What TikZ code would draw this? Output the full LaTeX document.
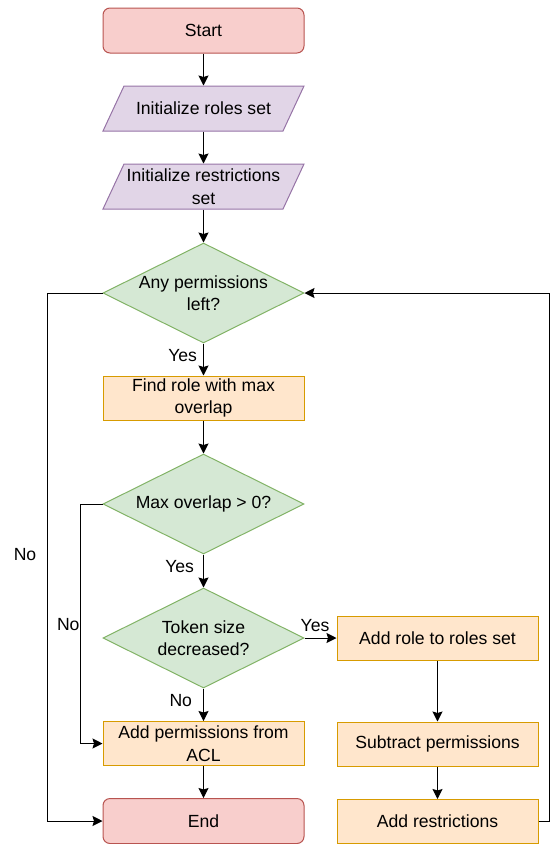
\documentclass[tikz,border=0pt]{standalone}
\usepackage{fontspec}
\setmainfont{Liberation Sans}
\usepackage{tikz}
\usetikzlibrary{arrows.meta,shapes.geometric}
\definecolor{termfill}{HTML}{F8CECC}
\definecolor{termline}{HTML}{B85450}
\definecolor{iofill}{HTML}{E1D5E7}
\definecolor{ioline}{HTML}{9673A6}
\definecolor{askfill}{HTML}{D5E8D4}
\definecolor{askline}{HTML}{82B366}
\definecolor{actfill}{HTML}{FFE6CC}
\definecolor{actline}{HTML}{D79B00}
\tikzset{
  term/.style ={draw=termline, fill=termfill, rounded corners=7pt, minimum width=201pt, minimum height=45pt, inner sep=0pt},
  iobox/.style={draw=ioline, fill=iofill},
  io/.style   ={minimum width=181pt, minimum height=45pt, inner sep=0pt, align=center},
  ask/.style  ={draw=askline, fill=askfill, diamond, aspect=2, minimum width=201pt, minimum height=100pt, inner sep=0pt, align=center},
  act/.style  ={draw=actline, fill=actfill, minimum width=201pt, minimum height=44pt, inner sep=0pt, align=center},
  lbl/.style  ={inner sep=1pt},
  arr/.style  ={draw=black, line width=1pt, -{Stealth[length=10pt,width=10pt,inset=1.5pt]}},
}

\begin{document}
\begin{tikzpicture}[x=1pt,y=-1pt,font=\fontsize{17.6}{22.5}\selectfont,line width=1pt]
  \useasboundingbox (0,0) rectangle (550,844);
  % main column
  \node[term] (start) at (203.5,30.5) {Start};
  \filldraw[iobox] (103,131) -- (283,131) -- (304,86) -- (124,86) -- cycle;
  \node[io] (roles) at (203.5,108.5) {Initialize roles set};
  \filldraw[iobox] (103,209) -- (283,209) -- (304,164) -- (124,164) -- cycle;
  \node[io] (restr) at (203.5,186.5) {Initialize restrictions\\set};
  \node[ask] (q1) at (203.5,293) {Any permissions\\left?};
  \node[act] (find) at (203.5,398) {Find role with max\\overlap};
  \node[ask] (q2) at (203.5,504) {Max overlap > 0?};
  \node[ask] (q3) at (203.5,638) {Token size\\decreased?};
  \node[act] (acl) at (203.5,743.5) {Add permissions from\\ACL};
  \node[term] (end) at (203.5,821) {End};
  % right column
  \node[act] (addrole) at (437.5,638) {Add role to roles set};
  \node[act] (sub) at (437.5,744) {Subtract permissions};
  \node[act] (addres) at (437.5,821.5) {Add restrictions};
  \coordinate (rloop) at (549,293);
  \coordinate (lloop) at (47,821);
  \coordinate (mloop) at (80,743.5);

  \draw[arr] (start) -- (roles);
  \draw[arr] (roles) -- (restr);
  \draw[arr] (restr) -- (q1);
  \draw[arr] (q1) -- node[lbl,left,pos=0.39,xshift=-5pt] {Yes} (find);
  \draw[arr] (find) -- (q2);
  \draw[arr] (q2) -- node[lbl,left,pos=0.35,xshift=-8pt] {Yes} (q3);
  \draw[arr] (q3) -- node[lbl,left,pos=0.36,xshift=-10pt] {No} (acl);
  \draw[arr] (acl) -- (end);
  \draw[arr] (q3.east) -- node[lbl,above,pos=0.33,yshift=5pt] {Yes} (addrole);
  \draw[arr] (addrole) -- (sub);
  \draw[arr] (sub) -- (addres);
  \draw[arr] (addres.east) -| (rloop) -- (q1.east);
  \draw[arr] (q1.west) -| (lloop) -- (end.west);
  \node[lbl] (nofirst) at (25,555) {No};
  \draw[arr] (q2.west) -| (mloop) -- (acl.west);
  \node[lbl,left] (nosecond) at (81,625) {No};
\end{tikzpicture}
\end{document}
